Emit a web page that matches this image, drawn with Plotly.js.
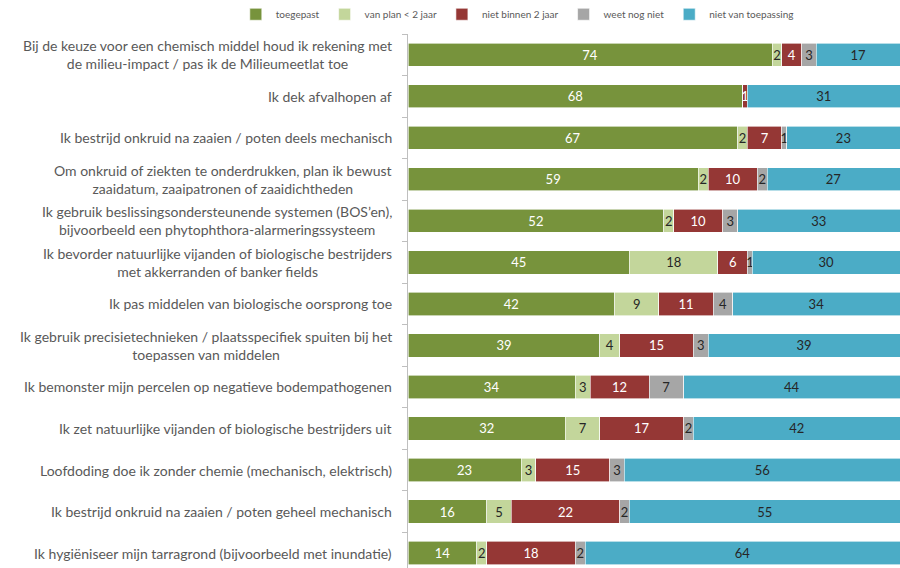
<!DOCTYPE html>
<html>
<head>
<meta charset="utf-8">
<script src="https://cdn.plot.ly/plotly-3.0.1.min.js"></script>
<style>html,body{margin:0;padding:0;background:#fff;overflow:hidden;}#chart{width:900px;height:568px;}</style>
</head>
<body>
<div id="chart"></div>
<script>
const categories = [
  "Bij de keuze voor een chemisch middel houd ik rekening met<br>de milieu-impact / pas ik de Milieumeetlat toe",
  "Ik dek afvalhopen af",
  "Ik bestrijd onkruid na zaaien / poten deels mechanisch",
  "Om onkruid of ziekten te onderdrukken, plan ik bewust<br>zaaidatum, zaaipatronen of zaaidichtheden",
  "Ik gebruik beslissingsondersteunende systemen (BOS’en),<br>bijvoorbeeld een phytophthora-alarmeringssysteem",
  "Ik bevorder natuurlijke vijanden of biologische bestrijders<br>met akkerranden of banker fields",
  "Ik pas middelen van biologische oorsprong toe",
  "Ik gebruik precisietechnieken / plaatsspecifiek spuiten bij het<br>toepassen van middelen",
  "Ik bemonster mijn percelen op negatieve bodempathogenen",
  "Ik zet natuurlijke vijanden of biologische bestrijders uit",
  "Loofdoding doe ik zonder chemie (mechanisch, elektrisch)",
  "Ik bestrijd onkruid na zaaien / poten geheel mechanisch",
  "Ik hygiëniseer mijn tarragrond (bijvoorbeeld met inundatie)"
];
const seriesNames = ["toegepast", "van plan < 2 jaar", "niet binnen 2 jaar", "weet nog niet", "niet van toepassing"];
const toegepast       = [74, 68, 67, 59, 52, 45, 42, 39, 34, 32, 23, 16, 14];
const vanPlan         = [2, 0, 2, 2, 2, 18, 9, 4, 3, 7, 3, 5, 2];
const nietBinnen      = [4, 1, 7, 10, 10, 6, 11, 15, 12, 17, 15, 22, 18];
const weetNogNiet     = [3, 0, 1, 2, 3, 1, 4, 3, 7, 2, 3, 2, 2];
const nietToepassing  = [17, 31, 23, 27, 33, 30, 34, 39, 44, 42, 56, 55, 64];

const seriesValues = [toegepast, vanPlan, nietBinnen, weetNogNiet, nietToepassing];
const colors = ["#77933C", "#C3D69B", "#953735", "#A6A6A6", "#4BACC6"];
const textColors = ["#FFFFFF", "#262626", "#FFFFFF", "#262626", "#262626"];

const traces = seriesValues.map((vals, s) => ({
  type: "bar",
  orientation: "h",
  name: seriesNames[s],
  y: categories,
  x: vals,
  text: vals.map(v => v ? String(v) : ""),
  textposition: "inside",
  insidetextanchor: "middle",
  textangle: 0,
  constraintext: "none",
  cliponaxis: false,
  textfont: {family: "Lato, 'Open Sans', sans-serif", size: 13, color: textColors[s]},
  marker: {color: colors[s], line: {width: 0.6, color: "#FFFFFF"}},
  hoverinfo: "skip"
}));

const labelAnnotations = categories.map(c => ({
  xref: "paper", yref: "y",
  x: 0, y: c,
  xanchor: "right", yanchor: "middle",
  xshift: -14,
  align: "center",
  showarrow: false,
  text: c,
  font: {family: "Lato, 'Open Sans', sans-serif", size: 14, color: "#595959"}
}));

const layout = {
  width: 900, height: 568,
  margin: {l: 408, r: 0, t: 34, b: 0, pad: 0, autoexpand: false},
  paper_bgcolor: "#FFFFFF",
  plot_bgcolor: "#FFFFFF",
  barmode: "stack",
  bargap: 0.44,
  showlegend: true,
  legend: {
    orientation: "h",
    xref: "paper", yref: "paper",
    x: -0.35, xanchor: "left",
    y: 1.037, yanchor: "middle",
    font: {family: "Lato, 'Open Sans', sans-serif", size: 10, color: "#595959"},
    traceorder: "normal",
    itemwidth: 30,
    itemclick: false
  },
  xaxis: {
    range: [0, 100],
    showgrid: false, zeroline: false, showline: false,
    showticklabels: false, ticks: "", fixedrange: true
  },
  yaxis: {
    type: "category",
    range: [12.36, -0.5],
    showgrid: false, zeroline: false,
    showline: true, linecolor: "#BFBFBF", linewidth: 1,
    ticks: "outside", tickson: "boundaries", ticklen: 5, tickcolor: "#BFBFBF",
    showticklabels: false, fixedrange: true
  },
  annotations: labelAnnotations
};

Plotly.newPlot("chart", traces, layout, {displayModeBar: false, staticPlot: true});
</script>
</body>
</html>
